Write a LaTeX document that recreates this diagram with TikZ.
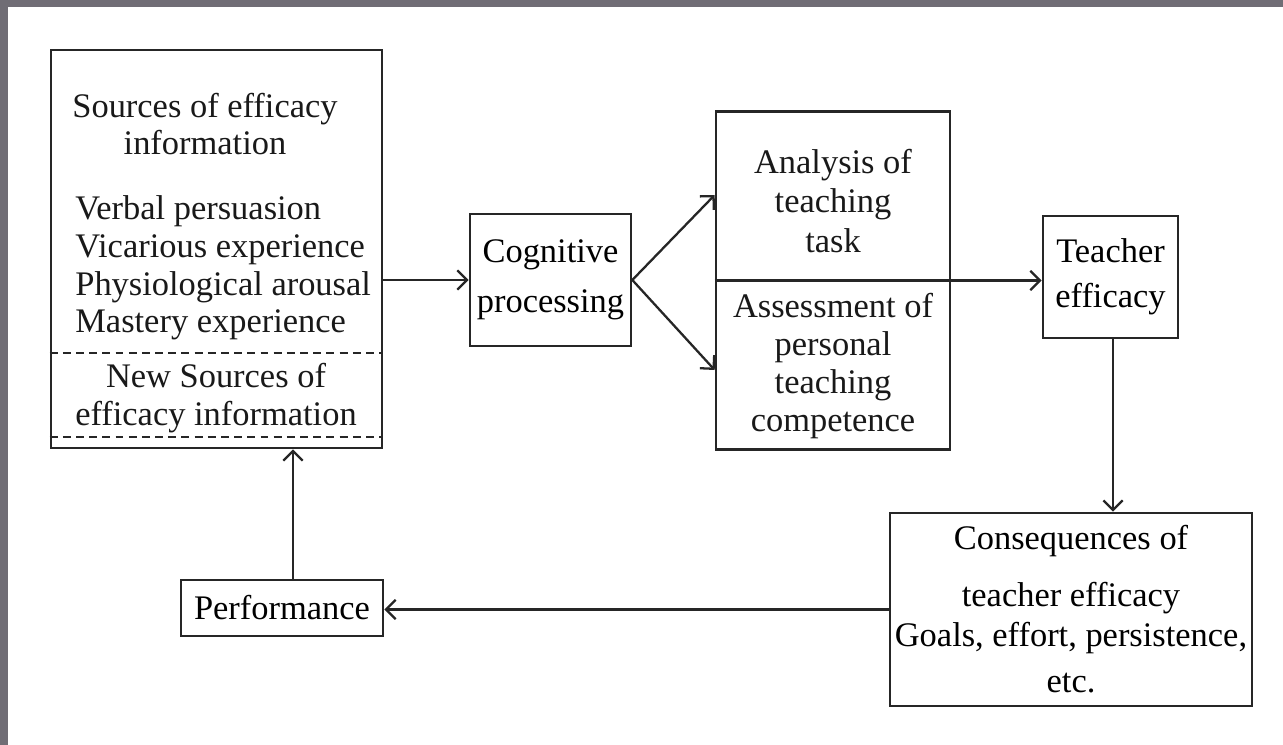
\documentclass[tikz,border=0pt]{standalone}
\usepackage{fontspec}
\setmainfont{Liberation Serif}
\usepackage{tikz}
\usetikzlibrary{arrows.meta}
\definecolor{marco}{RGB}{112,109,117}

\begin{document}
\begin{tikzpicture}[
  font=\fontsize{19.6}{21.5}\selectfont,
  caja/.style={draw=black!85, line width=1.5pt, minimum width=#1, align=center, inner sep=0pt},
  flecha/.style={-{Straight Barb[length=5.5pt, width=11pt]}, line width=1.3pt, draw=black!85},
  punteada/.style={draw=black!85, line width=1.2pt, dash pattern=on 4.5pt off 3pt},
  texto/.style={align=center, inner sep=0pt, text=black!90}]
\useasboundingbox (0,0) rectangle (25.66,-14.9);
\fill[white] (0,0) rectangle (25.66,-14.9);
\fill[marco] (0,0) rectangle (25.66,-0.14);
\fill[marco] (0,0) rectangle (0.16,-14.9);
\node[caja=6.62cm, minimum height=7.96cm] (fuentes) at (4.33,-4.98) {};
\node[texto] (titulo) at (4.10,-2.48) {Sources of efficacy\\information};
\node[texto, align=left, anchor=west] (lista) at (1.50,-5.36) {Verbal persuasion\\Vicarious experience\\Physiological arousal\\Mastery experience};
\node[texto] (nuevas) at (4.32,-7.96) {New Sources of\\efficacy information};
\draw[punteada] (fuentes.west |- 0,-7.06) -- (fuentes.east |- 0,-7.06);
\draw[punteada] (fuentes.west |- 0,-8.74) -- (fuentes.east |- 0,-8.74);
\node[caja=3.22cm, minimum height=2.64cm] (cognitivo) at (11.01,-5.60) {Cognitive\\[7pt]processing};
\node[caja=4.68cm, minimum height=6.76cm] (tarea) at (16.66,-5.61) {};
\draw[line width=1.5pt, black!85] (tarea.west) -- (tarea.east);
\node[texto] (analisis) at (16.66,-4.02) {Analysis of\\[1pt]teaching\\[1pt]task};
\node[texto] (evaluacion) at (16.66,-7.32) {Assessment of\\personal\\teaching\\competence};
\node[caja=2.7cm, minimum height=2.44cm] (docente) at (22.21,-5.54) {Teacher\\[4pt]efficacy};
\node[caja=7.24cm, minimum height=3.86cm] (consecuencias) at (21.42,-12.19) {Consequences of\\[11pt]teacher efficacy\\[1pt]Goals, effort, persistence,\\[5pt]etc.};
\node[caja=4.04cm, minimum height=1.12cm] (desempeno) at (5.64,-12.16) {Performance};
\draw[flecha] (cognitivo.west -| fuentes.east) -- (cognitivo.west);
\draw[flecha] (cognitivo.east) -- ([yshift=1.71cm]tarea.west);
\draw[flecha] (cognitivo.east) -- ([yshift=-1.79cm]tarea.west);
\draw[flecha] (tarea.east) -- (tarea.east -| docente.west);
\draw[flecha] ([xshift=0.05cm]docente.south) -- ([xshift=0.05cm]docente.south |- consecuencias.north);
\draw[flecha] (consecuencias.west) -- (consecuencias.west -| desempeno.east);
\draw[flecha] ([xshift=0.22cm]desempeno.north) -- ([xshift=0.22cm]desempeno.north |- fuentes.south);
\end{tikzpicture}
\end{document}
